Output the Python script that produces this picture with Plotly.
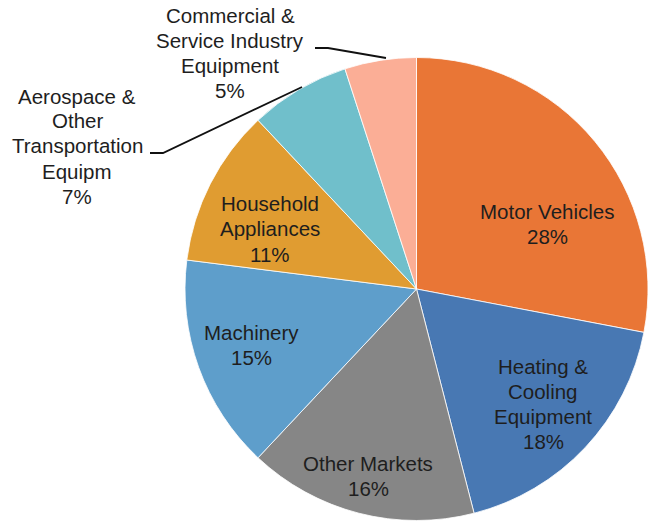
import plotly.graph_objects as go

# market share by end use (clockwise from 12 o'clock)
labels = [
    "Motor Vehicles",
    "Heating &<br>Cooling<br>Equipment",
    "Other Markets",
    "Machinery",
    "Household<br>Appliances",
    "Aerospace &<br>Other<br>Transportation<br>Equipm",
    "Commercial &<br>Service Industry<br>Equipment",
]
values = [28, 18, 16, 15, 11, 7, 5]
colors = ["#E97636", "#4878B3", "#868686", "#5E9ECB", "#E09C31", "#70BFCB", "#FBAE96"]

W, H = 648, 522
LINE = 25  # px between label lines
FONT = dict(family="Liberation Sans, Arial, sans-serif", size=20.5, color="#1E1E1E")

# label block centres in pixels (same order as labels)
label_pos = [
    (547, 224),
    (543, 404),
    (368, 476),
    (251, 345),
    (270, 229),
    (77, 146),
    (230, 53),
]

# leader lines for the two outside labels, in pixels
leaders = [
    [(150, 153), (163, 153), (302, 87)],
    [(315, 48), (328, 48), (386, 58)],
]


def px_x(x):
    return x / W


def px_y(y):
    return 1 - y / H


fig = go.Figure()

fig.add_trace(
    go.Pie(
        labels=[l.replace("<br>", " ") for l in labels],
        values=values,
        sort=False,
        direction="clockwise",
        rotation=0,
        marker=dict(colors=colors, line=dict(color="white", width=0.8)),
        textinfo="none",
        hoverinfo="label+percent",
        showlegend=False,
        domain=dict(x=[px_x(185), 1.0], y=[px_y(521), px_y(57)]),
    )
)

total = sum(values)
for lab, val, (x, y) in zip(labels, values, label_pos):
    lines = lab.split("<br>") + [f"{round(100 * val / total)}%"]
    n = len(lines)
    for i, txt in enumerate(lines):
        fig.add_annotation(
            x=px_x(x),
            y=px_y(y + (i - (n - 1) / 2) * LINE),
            xref="paper",
            yref="paper",
            text=txt,
            showarrow=False,
            xanchor="center",
            yanchor="middle",
            font=FONT,
        )

for pts in leaders:
    path = "M " + " L ".join(f"{px_x(x)},{px_y(y)}" for x, y in pts)
    fig.add_shape(
        type="path",
        path=path,
        xref="paper",
        yref="paper",
        line=dict(color="#111111", width=1.8),
    )

fig.update_layout(
    width=W,
    height=H,
    margin=dict(l=0, r=0, t=0, b=0),
    paper_bgcolor="white",
    plot_bgcolor="white",
)

# drop the default 8px body margin so the figure fills the window
fig.write_html(
    "out.html",
    config={"displayModeBar": False},
    post_script="document.body.style.margin='0';document.body.style.overflow='hidden';",
)
